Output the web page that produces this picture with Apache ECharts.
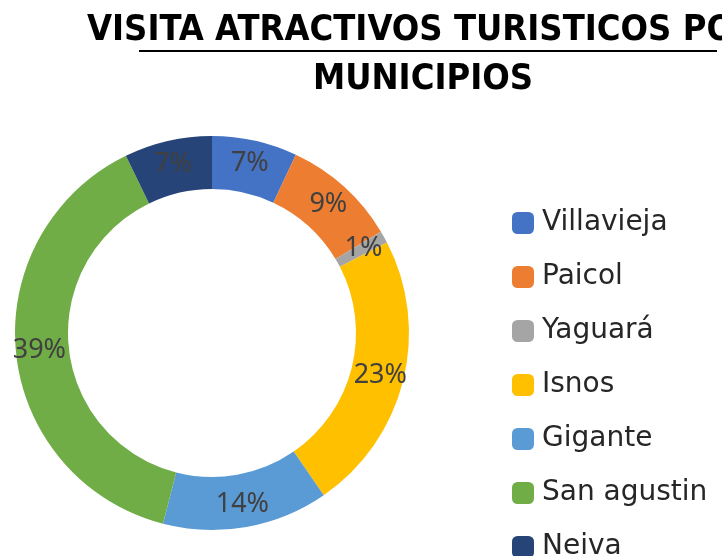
<!DOCTYPE html>
<html>
<head>
<meta charset="utf-8">
<script src="https://cdn.jsdelivr.net/npm/echarts@6/dist/echarts.min.js"></script>
<style>
  html, body { margin: 0; padding: 0; background: #fff; }
  #chart { width: 722px; height: 556px; }
</style>
</head>
<body>
<div id="chart"></div>
<script>
// municipios y su parte de visitas (%)
const municipios = ['Villavieja', 'Paicol', 'Yaguará', 'Isnos', 'Gigante', 'San agustin', 'Neiva']
const visitas = [7.0, 9.4, 1.0, 23.0, 13.6, 38.8, 7.2]
const colores = ['#4472C4', '#ED7D31', '#A5A5A5', '#FFC000', '#5B9BD5', '#70AD47', '#264478']

const chart = echarts.init(document.getElementById('chart'))

const options = {
  backgroundColor: '#fff',
  animation: false,
  title: [{
    text: 'VISITA ATRACTIVOS TURISTICOS POR',
    left: 82,
    top: 8,
    textStyle: {
      fontFamily: 'DejaVu Sans Condensed',
      fontWeight: 'bold',
      fontSize: 36,
      lineHeight: 36,
      color: '#000'
    }
  }, {
    text: 'MUNICIPIOS',
    left: 418,
    top: 57,
    textAlign: 'center',
    textStyle: {
      fontFamily: 'DejaVu Sans Condensed',
      fontWeight: 'bold',
      fontSize: 36,
      lineHeight: 36,
      color: '#000'
    }
  }],
  // subrayado del título
  graphic: [{
    type: 'rect',
    shape: { x: 139, y: 50, width: 578, height: 2 },
    style: { fill: '#000' }
  }],
  legend: {
    orient: 'vertical',
    left: 507,
    top: 204,
    height: 600,
    icon: 'roundRect',
    itemWidth: 22,
    itemHeight: 22,
    itemGap: 26,
    data: municipios,
    textStyle: {
      fontFamily: 'DejaVu Sans',
      fontSize: 28,
      lineHeight: 24,
      color: '#262626',
      padding: [0, 0, 0, 3]
    }
  },
  series: [{
    type: 'pie',
    center: [212, 333],
    radius: [144, 197],
    startAngle: 90,
    clockwise: true,
    avoidLabelOverlap: false,
    data: municipios.map((m, i) => ({
      name: m,
      value: visitas[i],
      itemStyle: { color: colores[i] }
    })),
    label: {
      show: true,
      position: 'inside',
      formatter: p => Math.round(p.percent) + '%',
      fontFamily: 'Noto Sans',
      fontSize: 27,
      color: '#404040'
    },
    labelLine: { show: false },
    emphasis: { disabled: true }
  }]
}
chart.setOption(options)
</script>
</body>
</html>
